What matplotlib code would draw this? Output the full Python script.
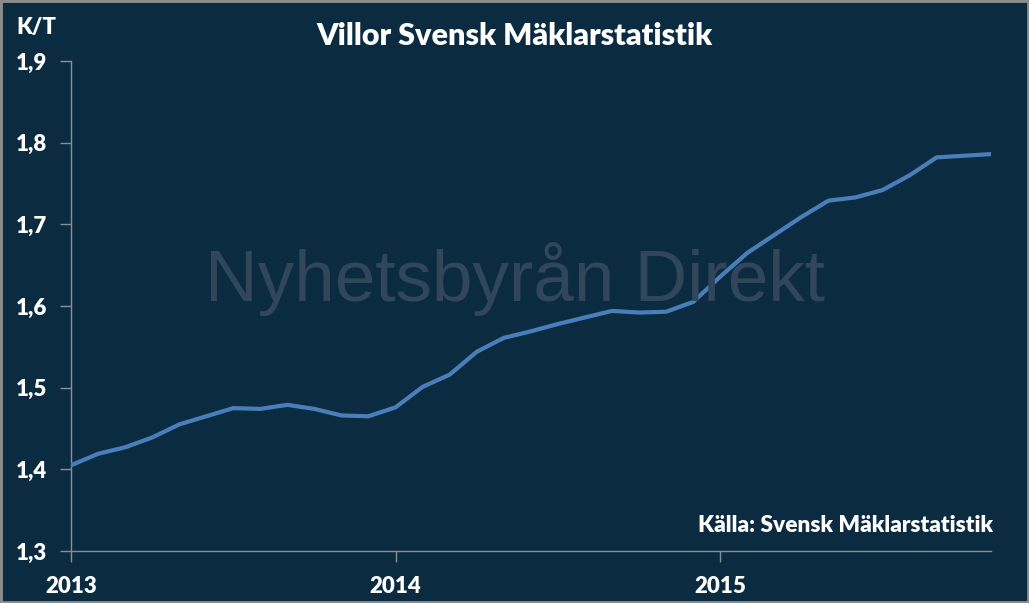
import matplotlib.pyplot as plt
import matplotlib.patches as patches

# monthly values, Jan 2013 - Nov 2015
months = list(range(35))
kt = [1.405, 1.419, 1.427, 1.439, 1.455, 1.465, 1.475, 1.474, 1.479, 1.474, 1.466, 1.465,
      1.476, 1.501, 1.516, 1.544, 1.561, 1.569, 1.578, 1.586, 1.594, 1.592, 1.593, 1.605,
      1.636, 1.665, 1.687, 1.709, 1.729, 1.733, 1.742, 1.760, 1.782, 1.784, 1.786]
year_ticks = [0, 12, 24]
year_labels = ["2013", "2014", "2015"]
y_ticks = [1.3, 1.4, 1.5, 1.6, 1.7, 1.8, 1.9]
y_labels = ["1,3", "1,4", "1,5", "1,6", "1,7", "1,8", "1,9"]

bg = "#0b2b40"
axis_col = "#8a8f94"
font = ["Lato", "DejaVu Sans"]

fig = plt.figure(figsize=(10.29, 6.03), dpi=100)
fig.patch.set_facecolor(bg)
fig.patches.append(patches.Rectangle((0, 0), 1, 1, transform=fig.transFigure,
                                     fill=False, edgecolor="#8c8c8c", linewidth=3.5))
ax = fig.add_axes([0.069, 0.0862, 0.8938, 0.8126])
ax.set_facecolor(bg)

# watermark
fig.text(0.5, 0.538, "Nyhetsbyrån Direkt", color="#31465a", fontsize=52.5,
         family=["Liberation Sans", "DejaVu Sans"], ha="center", va="center", zorder=0)

ax.plot(months, kt, color="#4a7ebb", linewidth=3, solid_joinstyle="round", zorder=3)

ax.set_xlim(0, 34)
ax.set_ylim(1.3, 1.9)
ax.set_xticks(year_ticks)
ax.set_xticklabels(year_labels)
ax.set_yticks(y_ticks)
ax.set_yticklabels(y_labels)

for s in ["top", "right"]:
    ax.spines[s].set_visible(False)
for s in ["left", "bottom"]:
    ax.spines[s].set_color(axis_col)
    ax.spines[s].set_linewidth(1)
ax.tick_params(colors=axis_col, length=8, width=1, direction="out")
ax.tick_params(axis="x", pad=10)
ax.tick_params(axis="y", pad=9)
for lbl in ax.get_xticklabels() + ax.get_yticklabels():
    lbl.set_color("white")
    lbl.set_fontsize(16)
    lbl.set_fontweight("heavy")
    lbl.set_family(font)

fig.text(0.5, 0.94, "Villor Svensk Mäklarstatistik", color="white", fontsize=22,
         fontweight="heavy", family=font, ha="center", va="center")
fig.text(0.016, 0.955, "K/T", color="white", fontsize=16, fontweight="heavy",
         family=font, ha="left", va="center")
fig.text(0.965, 0.128, "Källa: Svensk Mäklarstatistik", color="white", fontsize=16.3,
         fontweight="heavy", family=font, ha="right", va="center")

fig.savefig("out.png", dpi=100, facecolor=bg)
